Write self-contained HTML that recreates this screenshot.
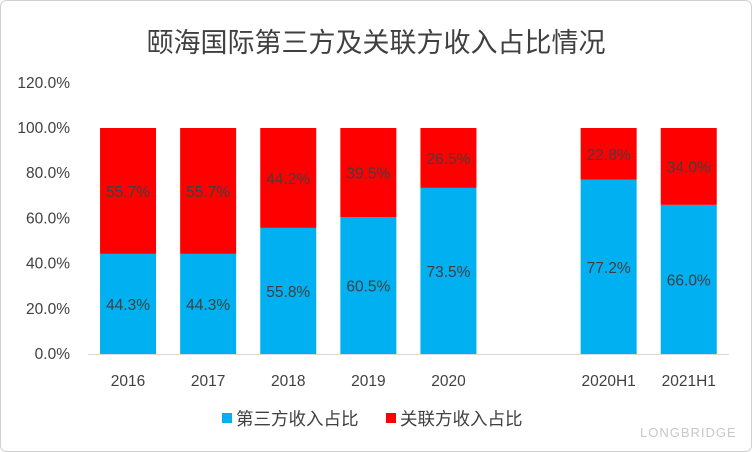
<!DOCTYPE html>
<html><head><meta charset="utf-8"><style>
body{margin:0;background:#fff;}
svg{display:block;font-family:"Liberation Sans","Noto Sans CJK SC",sans-serif;}
</style></head><body>
<svg id="chart" width="752" height="452">
<rect x="0.5" y="0.5" width="751" height="451" rx="6" fill="#fff" stroke="#d0d0d0"/>
<text x="376" y="52" text-anchor="middle" font-size="27" fill="#404040">颐海国际第三方及关联方收入占比情况</text>
<g id="yaxis"></g><g id="bars"></g><g id="xaxis"></g>
<g>
<rect x="222" y="413" width="10" height="10" fill="#00B0F0"/>
<text x="236" y="425" font-size="17.5" fill="#404040">第三方收入占比</text>
<rect x="386" y="413" width="10" height="10" fill="#FF0000"/>
<text x="400" y="425" font-size="17.5" fill="#404040">关联方收入占比</text>
</g>
<text x="640" y="437" font-size="13" fill="#c8c8c8" letter-spacing="1">LONGBRIDGE</text>
</svg>
<script>
const categories=["2016","2017","2018","2019","2020","","2020H1","2021H1"];
const thirdParty=[44.3,44.3,55.8,60.5,73.5,null,77.2,66.0];
const relatedParty=[55.7,55.7,44.2,39.5,26.5,null,22.8,34.0];
const yTicks=[0,20,40,60,80,100,120];
const NS="http://www.w3.org/2000/svg";
const y0=354,pxPer=2.26,x0=88,step=80.1,bw=56;
const y=v=>y0-v*pxPer;
const xc=i=>x0+step*(i+0.5);
function mk(tag,attrs,parent){const e=document.createElementNS(NS,tag);for(const k in attrs)e.setAttribute(k,attrs[k]);parent.appendChild(e);return e;}
const ya=document.getElementById('yaxis'),bars=document.getElementById('bars'),xa=document.getElementById('xaxis');
yTicks.forEach(t=>{
 const tx=mk('text',{x:70,y:y(t)+5,'text-anchor':'end','font-size':15.5,fill:'#404040'},ya);
 tx.textContent=t.toFixed(1)+'%';
 
 
});
categories.forEach((c,i)=>{
 if(c){const l=mk('text',{x:xc(i),y:386,'text-anchor':'middle','font-size':15.5,fill:'#404040'},xa);l.textContent=c;
 
 }
 if(thirdParty[i]==null)return;
 const a=thirdParty[i],b=relatedParty[i];
 const r1=mk('rect',{x:xc(i)-bw/2,y:y(a),width:bw,height:a*pxPer,fill:'#00B0F0'},bars);
 
 
 const r2=mk('rect',{x:xc(i)-bw/2,y:y(a+b),width:bw,height:b*pxPer,fill:'#FF0000'},bars);
 
 
 const t1=mk('text',{x:xc(i),y:y(a/2)+6,'text-anchor':'middle','font-size':15.5,fill:'#404040'},bars);t1.textContent=a.toFixed(1)+'%';
 
 
 const t2=mk('text',{x:xc(i),y:y(a+b/2)+6,'text-anchor':'middle','font-size':15.5,fill:'#404040'},bars);t2.textContent=b.toFixed(1)+'%';
 
 
});
const ax=mk('line',{x1:x0,x2:x0+step*8,y1:y0+0.5,y2:y0+0.5,stroke:'#d9d9d9'},xa);


</script>
</body></html>
